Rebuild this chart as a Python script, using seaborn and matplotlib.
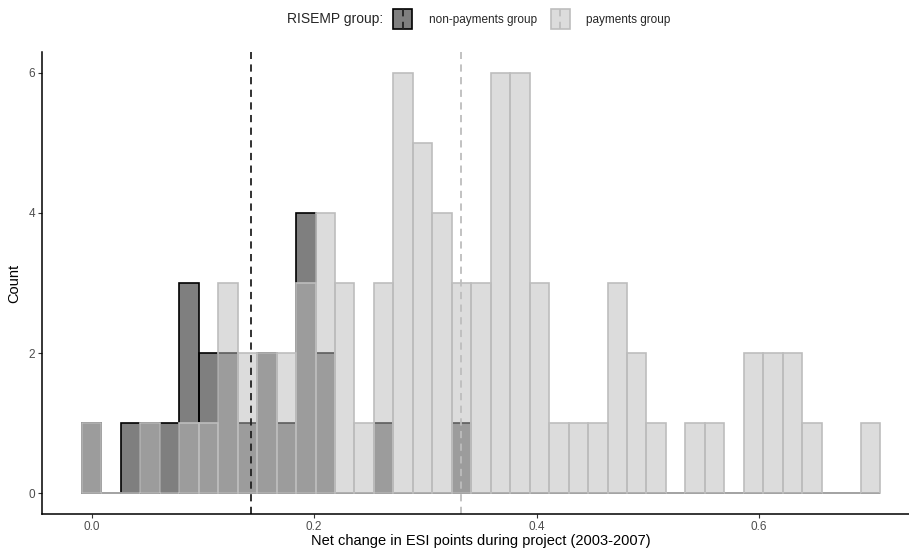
import numpy as np
import pandas as pd
import matplotlib
matplotlib.use("Agg")
import matplotlib.pyplot as plt
import seaborn as sns
from matplotlib.legend_handler import HandlerBase
from matplotlib.patches import Rectangle
from matplotlib.lines import Line2D

# ---- data ----
bin_width = 0.0175
bin_centers = np.round(np.arange(41) * bin_width, 5)
nonpay_counts = [1, 0, 1, 1, 1, 3, 2, 2, 1, 2, 1, 4, 2, 0, 0, 1, 0, 0, 0, 1,
                 0, 0, 0, 0, 0, 0, 0, 0, 0, 0, 0, 0, 0, 0, 0, 0, 0, 0, 0, 0, 0]
pay_counts = [1, 0, 0, 1, 0, 1, 1, 3, 2, 2, 2, 3, 4, 3, 1, 3, 6, 5, 4, 3,
              3, 6, 6, 3, 1, 1, 1, 3, 2, 1, 0, 1, 1, 0, 2, 2, 2, 1, 0, 0, 1]
groups = ["non-payments group", "payments group"]
x_ticks = [0.0, 0.2, 0.4, 0.6]
y_ticks = [0, 2, 4, 6]

df = pd.DataFrame({
    "x": np.concatenate([bin_centers, bin_centers]),
    "count": nonpay_counts + pay_counts,
    "group": [groups[0]] * len(bin_centers) + [groups[1]] * len(bin_centers),
})
edges = np.concatenate([bin_centers - bin_width / 2, [bin_centers[-1] + bin_width / 2]])

styles = {
    groups[0]: dict(face=(0, 0, 0, 0.5), edge="black", mean="#222222"),
    groups[1]: dict(face=(0.73, 0.73, 0.73, 0.5), edge="#bdbdbd", mean="#bdbdbd"),
}

sns.set_theme(style="ticks")
plt.rcParams["font.family"] = ["Liberation Sans", "DejaVu Sans"]

fig = plt.figure(figsize=(9.09, 5.49), dpi=100)
ax = fig.add_axes([42 / 909, 35 / 549, 878 / 909, 462 / 549])

for g in groups:
    sub = df[df["group"] == g]
    sns.histplot(data=sub, x="x", weights="count", bins=edges.tolist(), ax=ax,
                 facecolor=styles[g]["face"], edgecolor=styles[g]["edge"],
                 linewidth=1.2)

for g in groups:
    sub = df[df["group"] == g]
    m = np.average(sub["x"], weights=sub["count"])
    ax.axvline(m, color=styles[g]["mean"], linestyle=(0, (4, 3)), linewidth=1.3)

lo, hi = edges[0], edges[-1]
pad = (hi - lo) * 0.05
ax.set_xlim(lo - pad, hi + pad)
ax.set_ylim(-0.3, 6.3)
ax.set_xticks(x_ticks)
ax.set_xticklabels([f"{t:.1f}" for t in x_ticks])
ax.set_yticks(y_ticks)
ax.tick_params(axis="both", colors="#333333", labelcolor="#4d4d4d", labelsize=8.5,
               length=3, width=0.8, pad=2)
for s in ["top", "right"]:
    ax.spines[s].set_visible(False)
for s in ["left", "bottom"]:
    ax.spines[s].set_color("black")
    ax.spines[s].set_linewidth(1.1)
ax.set_xlabel("Net change in ESI points during project (2003-2007)", fontsize=10.5,
              color="black", labelpad=1)
ax.set_ylabel("Count", fontsize=10.5, color="black", labelpad=5)


class KeyHandler(HandlerBase):
    def create_artists(self, legend, orig_handle, xdescent, ydescent, width,
                       height, fontsize, trans):
        face, edge, line = orig_handle
        r = Rectangle((-xdescent, -ydescent), width, height, facecolor=face,
                      edgecolor=edge, linewidth=1.2, transform=trans)
        l = Line2D([-xdescent + width / 2] * 2, [-ydescent, -ydescent + height],
                   color=line, linestyle=(0, (4, 3)), linewidth=1.3, transform=trans)
        return [r, l]


handles = [(styles[g]["face"], styles[g]["edge"], styles[g]["mean"]) for g in groups]
fig.text(287 / 909, 1 - 19 / 549, "RISEMP group:", fontsize=10, va="center", ha="left")
fig.legend(handles, groups, handler_map={tuple: KeyHandler()}, ncol=2,
           loc="center left", bbox_to_anchor=(385 / 909, 1 - 19 / 549),
           frameon=False, fontsize=8.5, handlelength=1.6, handleheight=2.2,
           handletextpad=1.4, columnspacing=1.2, borderpad=0.2)

fig.savefig("out.png", dpi=100)
